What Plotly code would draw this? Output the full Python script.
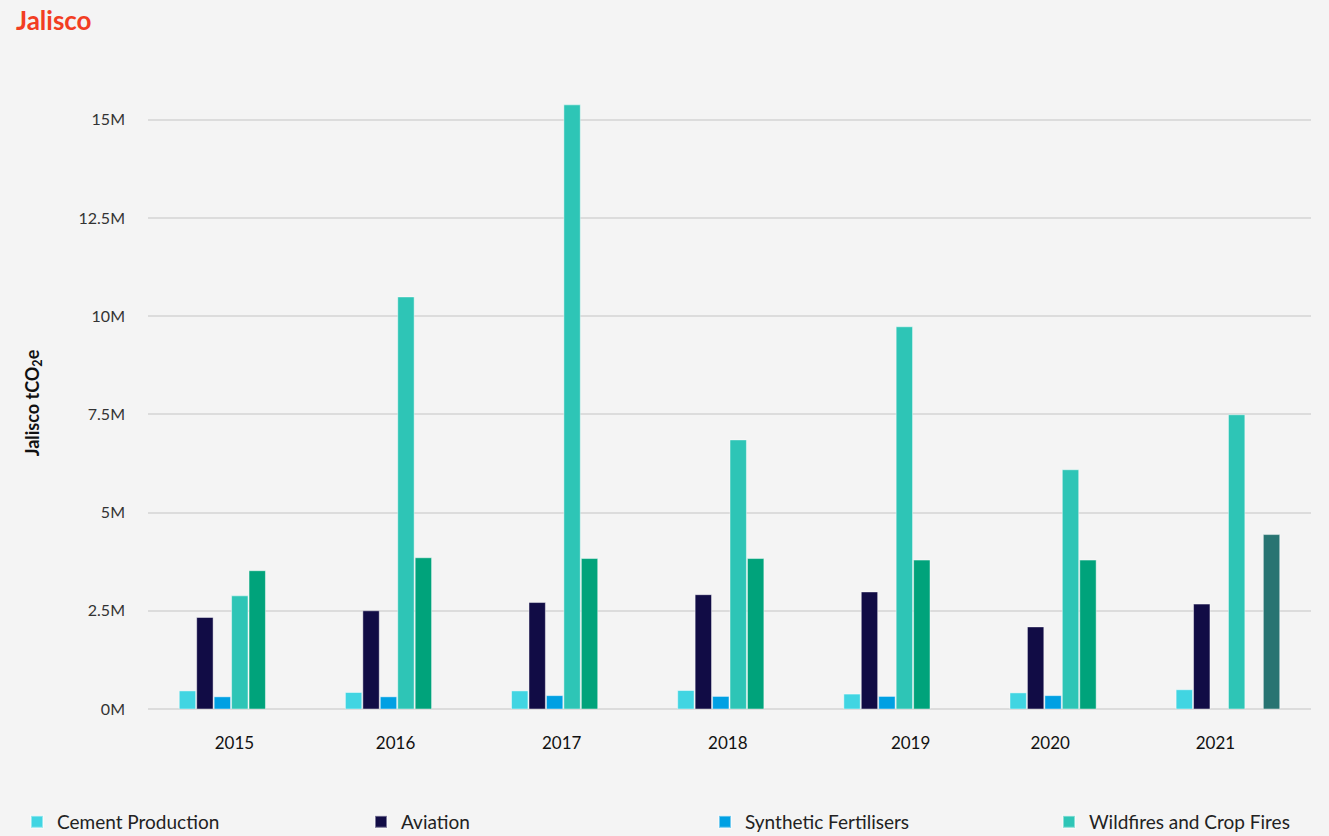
import plotly.graph_objects as go

years = ["2015", "2016", "2017", "2018", "2019", "2020", "2021"]
label_offsets = [0.02, -0.01, -0.01, -0.01, 0.09, -0.07, -0.075]

cement = [0.46e6, 0.42e6, 0.46e6, 0.47e6, 0.38e6, 0.41e6, 0.49e6]
aviation = [2.33e6, 2.50e6, 2.71e6, 2.91e6, 2.98e6, 2.09e6, 2.67e6]
fertilisers = [0.31e6, 0.31e6, 0.34e6, 0.32e6, 0.32e6, 0.34e6, None]
wildfires = [2.88e6, 10.49e6, 15.38e6, 6.85e6, 9.73e6, 6.09e6, 7.49e6]
other_a = [3.52e6, 3.85e6, 3.83e6, 3.83e6, 3.79e6, 3.79e6, None]
other_b = [None, None, None, None, None, None, 4.44e6]

series = [
    ("Cement Production", cement, "#41D5E2", "legend"),
    ("Aviation", aviation, "#110C45", "legend2"),
    ("Synthetic Fertilisers", fertilisers, "#00A0E3", "legend3"),
    ("Wildfires and Crop Fires", wildfires, "#2EC5B6", "legend4"),
    ("Enteric Fermentation", other_a, "#00A37B", None),
    ("Other", other_b, "#287472", None),
]

y_ticks = [0, 2.5e6, 5e6, 7.5e6, 10e6, 12.5e6, 15e6]
y_labels = ["0M", "2.5M", "5M", "7.5M", "10M", "12.5M", "15M"]

x_idx = list(range(len(years)))

fig = go.Figure()
for name, vals, color, leg in series:
    fig.add_trace(go.Bar(
        x=x_idx, y=vals, name=name,
        marker=dict(color=color, line=dict(color="rgba(255,255,255,0.45)", width=1)),
        showlegend=leg is not None,
        legend=leg if leg else "legend",
    ))

W, H = 1329, 836
legend_px = [17, 361, 705, 1049]


def leg_style(px):
    return dict(orientation="h", xref="container", yref="container",
                x=px / W, xanchor="left", y=1 - 803 / H, yanchor="top",
                font=dict(size=19, color="#222222"), bgcolor="rgba(0,0,0,0)",
                itemsizing="constant")


fig.update_layout(
    barmode="group",
    bargap=0.37,
    bargroupgap=0.06,
    paper_bgcolor="#F4F4F4",
    plot_bgcolor="#F4F4F4",
    width=W, height=H,
    margin=dict(l=148, r=18, t=97, b=127),
    font=dict(family="Lato, sans-serif", color="#222222"),
    title=dict(text="<b>Jalisco</b>", x=0.012, xanchor="left", xref="container",
               y=0.975, yanchor="middle", yref="container",
               font=dict(size=26, color="#F23D22", family="Lato, sans-serif")),
    legend=leg_style(legend_px[0]),
    legend2=leg_style(legend_px[1]),
    legend3=leg_style(legend_px[2]),
    legend4=leg_style(legend_px[3]),
    showlegend=True,
)
fig.update_xaxes(
    range=[-0.5, len(years) - 0.5],
    tickvals=[i + o for i, o in zip(x_idx, label_offsets)],
    ticktext=years,
    showgrid=False, zeroline=False, showline=False,
    ticks="", ticklabelstandoff=22,
    tickfont=dict(size=17, color="#111111"),
)
fig.update_yaxes(
    range=[0, 15.58e6],
    tickvals=y_ticks, ticktext=y_labels,
    showgrid=True, gridcolor="#DCDCDC", gridwidth=2,
    zeroline=True, zerolinecolor="#DCDCDC", zerolinewidth=2,
    ticks="", ticklabelstandoff=22,
    tickfont=dict(size=16, color="#333333"),
    title=dict(text="<b>Jalisco tCO<sub>2</sub>e</b>", standoff=34,
               font=dict(size=18, color="#111111")),
)

fig.write_html("out.html")
